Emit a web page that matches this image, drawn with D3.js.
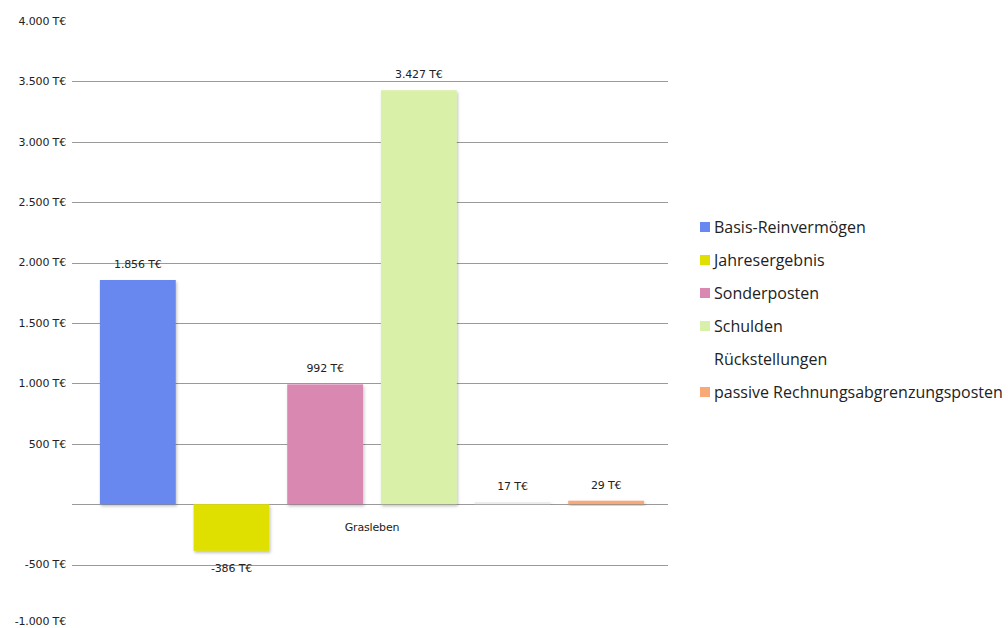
<!DOCTYPE html>
<html>
<head>
<meta charset="utf-8">
<script src="https://cdn.jsdelivr.net/npm/d3@7"></script>
<style>
  body { margin: 0; background: #fff; }
  svg { display: block; }
</style>
</head>
<body>
<div id="chart"></div>
<script>
// data (values in T€)
var category = "Grasleben";
var seriesNames = ["Basis-Reinvermögen", "Jahresergebnis", "Sonderposten", "Schulden", "Rückstellungen", "passive Rechnungsabgrenzungsposten"];
var seriesValues = [1856, -386, 992, 3427, 17, 29];
var seriesColors = ["#6788f0", "#e0e000", "#d988b2", "#d9f0a9", "#ececec", "#f9a878"];
var legendColors = ["#6788f0", "#e0e000", "#d988b2", "#d9f0a9", "#ffffff", "#f9a878"];
var yTicks = [-1000, -500, 0, 500, 1000, 1500, 2000, 2500, 3000, 3500, 4000];

var width = 1008, height = 628;

// german number format, thousands with a dot, plain hyphen as minus
var de = d3.formatLocale({decimal: ",", thousands: ".", grouping: [3], currency: ["", " €"], minus: "-"});
var fmt = function (v) { return de.format(",")(v) + " T€"; };

var smallFont = function (sel) {
  sel.style("font-family", "DejaVu Sans, sans-serif")
     .style("font-size", "11px")
     .style("letter-spacing", "-0.15px")
     .attr("fill", "#222");
};

var svg = d3.select("#chart").append("svg")
    .attr("width", width)
    .attr("height", height);

var defs = svg.append("defs");
var shadow = defs.append("filter").attr("id", "shadow")
    .attr("x", "-10%").attr("y", "-20%").attr("width", "130%").attr("height", "150%");
shadow.append("feDropShadow")
    .attr("dx", 1).attr("dy", 2).attr("stdDeviation", 1.8)
    .attr("flood-color", "#000").attr("flood-opacity", 0.25);

// scales
var y = d3.scaleLinear().domain([-1000, 4000]).range([625, 21]);
var x0 = d3.scaleBand().domain([category]).range([91, 653]);
var x1 = d3.scaleBand().domain(seriesNames)
    .range([x0(category), x0(category) + x0.bandwidth()])
    .paddingInner(0.19).paddingOuter(0.095);

var gridLeft = 72, gridRight = 668;

// gridlines (none at the outer ticks)
svg.append("g").selectAll("line")
    .data(yTicks.filter(function (t) { return t > -1000 && t < 4000; }))
    .enter().append("line")
    .attr("x1", gridLeft).attr("x2", gridRight)
    .attr("y1", function (d) { return Math.round(y(d)) + 0.5; })
    .attr("y2", function (d) { return Math.round(y(d)) + 0.5; })
    .attr("stroke", "#9a9a9a")
    .attr("stroke-width", 1);

// y axis labels (zero tick has no label)
svg.append("g").selectAll("text")
    .data(yTicks.filter(function (t) { return t !== 0; }))
    .enter().append("text")
    .attr("x", 66)
    .attr("y", function (d) { return Math.min(y(d), 621); })
    .attr("dy", "0.35em")
    .attr("text-anchor", "end")
    .call(smallFont)
    .text(function (d) { return fmt(d); });

// bars
var bars = svg.append("g");
bars.selectAll("rect")
    .data(seriesValues)
    .enter().append("rect")
    .attr("x", function (d, i) { return x1(seriesNames[i]); })
    .attr("width", x1.bandwidth())
    .attr("y", function (d) { return y(Math.max(0, d)); })
    .attr("height", function (d) { return Math.abs(y(d) - y(0)); })
    .attr("fill", function (d, i) { return seriesColors[i]; })
    .attr("filter", "url(#shadow)");

// value labels
svg.append("g").selectAll("text")
    .data(seriesValues)
    .enter().append("text")
    .attr("x", function (d, i) { return x1(seriesNames[i]) + x1.bandwidth() / 2; })
    .attr("y", function (d) { return d >= 0 ? y(d) - 12 : y(d) + 21; })
    .attr("text-anchor", "middle")
    .call(smallFont)
    .text(function (d) { return fmt(d); });

// category label
svg.append("text")
    .attr("x", x0(category) + x0.bandwidth() / 2)
    .attr("y", 531)
    .attr("text-anchor", "middle")
    .call(smallFont)
    .text(category);

// legend
var legend = svg.append("g").attr("transform", "translate(700,227)");
var item = legend.selectAll("g")
    .data(seriesNames)
    .enter().append("g")
    .attr("transform", function (d, i) { return "translate(0," + (i * 33) + ")"; });
item.append("rect")
    .attr("x", 0).attr("y", -5)
    .attr("width", 10).attr("height", 10)
    .attr("fill", function (d, i) { return legendColors[i]; });
item.append("text")
    .attr("x", 14)
    .attr("dy", "0.35em")
    .style("font-family", "Open Sans, sans-serif")
    .style("font-size", "16px")
    .attr("fill", "#222")
    .text(function (d) { return d; });
</script>
</body>
</html>
